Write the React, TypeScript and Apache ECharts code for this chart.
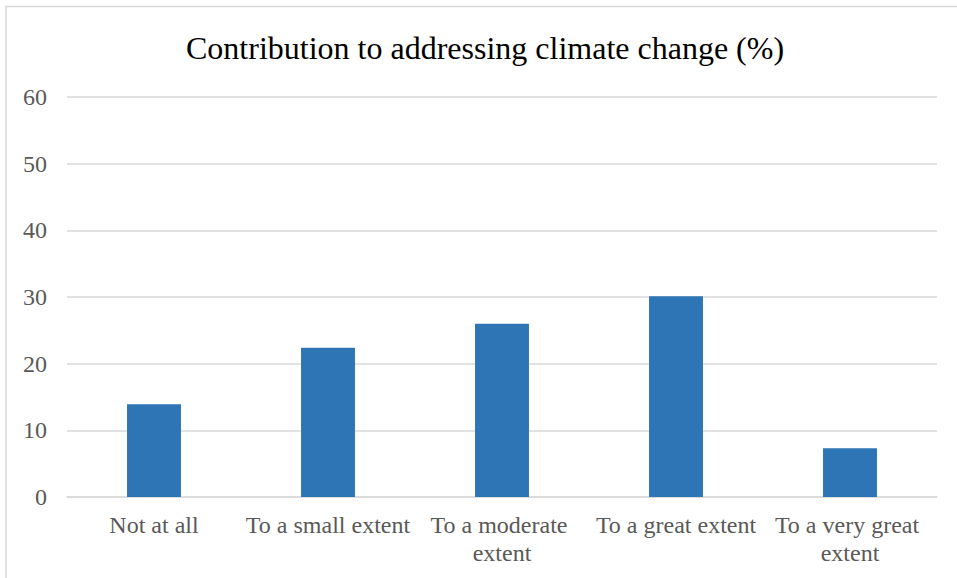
import React, { useEffect, useRef } from "react";
import * as echarts from "echarts";

const categories = [
  "Not at all",
  "To a small extent",
  "To a moderate extent",
  "To a great extent",
  "To a very great extent",
];
const shares = [13.9, 22.4, 26.0, 30.1, 7.3];
const yTicks = { min: 0, max: 60, interval: 10 };

const FONT = "'Liberation Serif', 'Times New Roman', serif";

export default function App() {
  const ref = useRef<HTMLDivElement>(null);

  useEffect(() => {
    if (!ref.current) return;
    const chart = echarts.init(ref.current, undefined, { renderer: "svg" });
    chart.setOption({
      animation: false,
      backgroundColor: "#ffffff",
      title: {
        text: "Contribution to addressing climate change (%)",
        left: 181,
        top: 27,
        textStyle: {
          fontFamily: FONT,
          fontSize: 32,
          fontWeight: "normal",
          color: "#000000",
        },
      },
      graphic: [
        {
          type: "polyline",
          shape: { points: [[6, 600], [6, 6.5], [1000, 6.5]] },
          style: { stroke: "#d9d9d9", lineWidth: 1.5, fill: "none" },
          silent: true,
        },
      ],
      grid: { left: 67, right: 20, top: 97, bottom: 81, containLabel: false },
      xAxis: {
        type: "category",
        data: categories,
        axisLine: { show: true, lineStyle: { color: "#d9d9d9", width: 1.5 } },
        axisTick: { show: false },
        axisLabel: {
          interval: 0,
          margin: 14,
          color: "#595959",
          fontFamily: FONT,
          fontSize: 24,
          lineHeight: 28,
          width: 172,
          overflow: "break",
        },
      },
      yAxis: {
        type: "value",
        min: yTicks.min,
        max: yTicks.max,
        interval: yTicks.interval,
        axisLine: { show: false },
        axisTick: { show: false },
        splitLine: { lineStyle: { color: "#d9d9d9", width: 1.5 } },
        axisLabel: {
          margin: 20,
          color: "#595959",
          fontFamily: FONT,
          fontSize: 24,
        },
      },
      series: [
        {
          type: "bar",
          data: shares,
          barWidth: "31%",
          itemStyle: { color: "#2e75b6" },
        },
      ],
    });
    return () => chart.dispose();
  }, []);

  return (
    <div
      ref={ref}
      style={{ position: "fixed", left: 0, top: 0, width: 957, height: 578 }}
    />
  );
}
